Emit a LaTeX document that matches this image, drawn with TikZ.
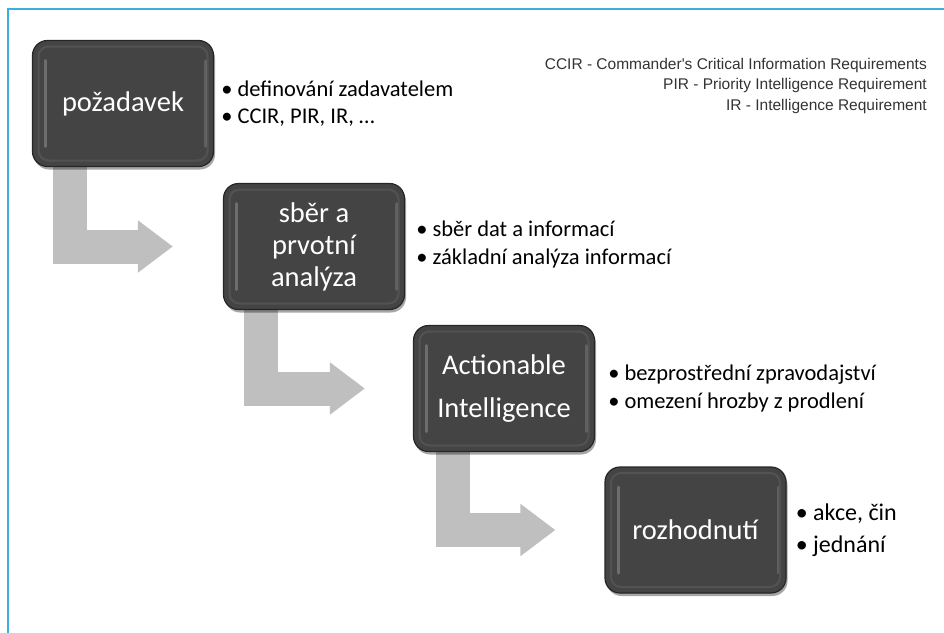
\documentclass[tikz,border=0pt]{standalone}
\usepackage{fontspec}
\setmainfont{Carlito}
\newfontfamily\legendfont{Liberation Sans}
\usetikzlibrary{arrows.meta,shadows,calc}
\definecolor{framecol}{HTML}{3AAFE0}
\definecolor{boxfill}{HTML}{444444}
\definecolor{boxedge}{HTML}{262626}
\definecolor{arrowgray}{HTML}{BFBFBF}
\definecolor{legendgray}{HTML}{333333}
\pgfdeclarelayer{background}
\pgfsetlayers{background,main}
\begin{document}
\begin{tikzpicture}[x=1pt,y=-1pt,
  stepbox/.style={rounded corners=15pt, fill=boxfill, draw=boxedge, line width=1.2pt,
    minimum width=181pt, minimum height=126pt, inner sep=0pt, align=center,
    text=white, font=\fontsize{28.5}{32}\selectfont,
    drop shadow={shadow xshift=1.5pt, shadow yshift=-3pt, opacity=.35, fill=black},
    path picture={
      \draw[white,opacity=.22,line width=3pt,line cap=round]
        ([shift={(13pt,-20pt)}]path picture bounding box.north west) --
        ([shift={(13pt,20pt)}]path picture bounding box.south west);
      \draw[white,opacity=.15,line width=2.5pt,line cap=round]
        ([shift={(-8pt,-20pt)}]path picture bounding box.north east) --
        ([shift={(-8pt,20pt)}]path picture bounding box.south east);
      \draw[white,opacity=.08,line width=2pt,rounded corners=10pt]
        ([shift={(6pt,-6pt)}]path picture bounding box.north west) rectangle
        ([shift={(-6pt,6pt)}]path picture bounding box.south east);
    }},
  bullets/.style={anchor=west, inner sep=0pt, align=left, text=black,
    font=\fontsize{22.5}{27.5}\selectfont},
  legend/.style={anchor=east, inner sep=0pt, align=right, text=legendgray,
    font=\legendfont\fontsize{15.5}{20.5}\selectfont},
  flow/.style={draw=arrowgray, line width=34pt, line join=miter,
    -{Triangle[length=35pt,width=50pt]}}
]
\useasboundingbox (0,0) rectangle (944,632);
\draw[framecol, line width=2pt] (8,640) -- (8,9) -- (950,9);

\node[stepbox] (b1) at (123,103.5) {požadavek};
\node[stepbox] (b2) at (314,246.5) {sběr a\\prvotní\\analýza};
\node[stepbox, font=\fontsize{28.5}{43}\selectfont] (b3) at (504,388.5) {Actionable\\Intelligence};
\node[stepbox] (b4) at (695.5,530) {rozhodnutí};

\node[bullets] (t1) at ($(b1.east)+(7,0)$) {• definování zadavatelem\\• CCIR, PIR, IR, …};
\node[bullets] (t2) at ($(b2.east)+(11,-2)$) {• sběr dat a informací\\• základní analýza informací};
\node[bullets] (t3) at ($(b3.east)+(13,0)$) {• bezprostřední zpravodajství\\• omezení hrozby z prodlení};
\node[bullets, font=\fontsize{24}{32}\selectfont] (t4) at ($(b4.east)+(9,0)$) {• akce, čin\\• jednání};

\node[legend] (legend) at (927,85.5) {CCIR - Commander's Critical Information Requirements\\PIR - Priority Intelligence Requirement\\IR - Intelligence Requirement};

\begin{pgfonlayer}{background}
\draw[flow] ($(b1.south west)+(38,-4)$) |- ($(b2.west)+(-50,0)$);
\draw[flow] ($(b2.south west)+(38.5,-4)$) |- ($(b3.west)+(-48,0)$);
\draw[flow] ($(b3.south west)+(40.5,-4)$) |- ($(b4.west)+(-49,0)$);
\end{pgfonlayer}
\end{tikzpicture}
\end{document}
